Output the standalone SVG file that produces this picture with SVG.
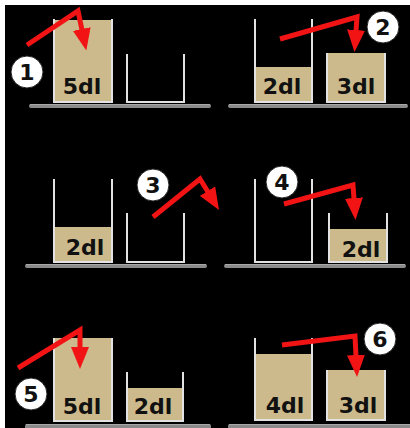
<svg xmlns="http://www.w3.org/2000/svg" width="410" height="428" viewBox="0 0 410 428">
  <style>
    .wall { fill: none; stroke: #e2e2e2; stroke-width: 2; }
    .liquid { fill: #cdba8c; }
    .shelf { fill: #8a8a8a; }
    .shelf-top { fill: #a8a8a8; }
    .vol { font-family: "DejaVu Sans", Verdana, sans-serif; font-weight: bold; font-size: 22px; fill: #111; text-anchor: middle; }
    .step circle { fill: #fff; stroke: #222; stroke-width: 1; }
    .step text { font-family: "DejaVu Sans", sans-serif; font-weight: bold; font-size: 22px; fill: #111; text-anchor: middle; }
    .pour { fill: none; stroke: #f21414; stroke-width: 5; stroke-linejoin: miter; marker-end: url(#head); }
  </style>
  <defs>
    <marker id="head" markerUnits="userSpaceOnUse" viewBox="0 0 22 18" refX="1" refY="9" markerWidth="22" markerHeight="18" orient="auto">
      <path d="M0,0 L22,9 L0,18 Z" fill="#f21414"/>
    </marker>
  </defs>

  <!-- page -->
  <rect width="410" height="428" fill="#fff"/>
  <rect x="5" y="5" width="405" height="423" fill="#000"/>

  <!-- shelves -->
  <g id="shelves">
    <rect class="shelf" x="29" y="104" width="182" height="4" rx="2"/>
    <rect class="shelf-top" x="30" y="104" width="180" height="1"/>
    <rect class="shelf" x="228" y="104" width="180" height="4" rx="2"/>
    <rect class="shelf-top" x="229" y="104" width="178" height="1"/>
    <rect class="shelf" x="25" y="264" width="182" height="4" rx="2"/>
    <rect class="shelf-top" x="26" y="264" width="180" height="1"/>
    <rect class="shelf" x="224" y="264" width="182" height="4" rx="2"/>
    <rect class="shelf-top" x="225" y="264" width="180" height="1"/>
    <rect class="shelf" x="25" y="424" width="186" height="5" rx="2"/>
    <rect class="shelf-top" x="26" y="424" width="184" height="1"/>
    <rect class="shelf" x="228" y="424" width="184" height="5" rx="2"/>
    <rect class="shelf-top" x="229" y="424" width="182" height="1"/>
  </g>

  <!-- row 1 -->
  <g id="beaker-1a">
    <rect class="liquid" x="54" y="20" width="58" height="82"/>
    <path class="wall" d="M54,19 V102 H112 V19"/>
    <text class="vol" x="82" y="94">5dl</text>
  </g>
  <g id="beaker-1b">
    <path class="wall" d="M127,54 V102 H184 V54"/>
  </g>
  <g id="beaker-2a">
    <rect class="liquid" x="255" y="67" width="57" height="35"/>
    <path class="wall" d="M255,19 V102 H312 V19"/>
    <text class="vol" x="282" y="94">2dl</text>
  </g>
  <g id="beaker-2b">
    <rect class="liquid" x="327" y="53" width="58" height="49"/>
    <path class="wall" d="M327,53 V102 H385 V53"/>
    <text class="vol" x="356" y="94">3dl</text>
  </g>

  <!-- row 2 -->
  <g id="beaker-3a">
    <rect class="liquid" x="54" y="227" width="58" height="35"/>
    <path class="wall" d="M54,179 V262 H112 V179"/>
    <text class="vol" x="85" y="255">2dl</text>
  </g>
  <g id="beaker-3b">
    <path class="wall" d="M127,213 V262 H184 V213"/>
  </g>
  <g id="beaker-4a">
    <path class="wall" d="M255,179 V262 H312 V179"/>
  </g>
  <g id="beaker-4b">
    <rect class="liquid" x="329" y="229" width="58" height="33"/>
    <path class="wall" d="M329,213 V262 H387 V213"/>
    <text class="vol" x="361" y="257">2dl</text>
  </g>

  <!-- row 3 -->
  <g id="beaker-5a">
    <rect class="liquid" x="54" y="338" width="58" height="83"/>
    <path class="wall" d="M54,338 V421 H112 V338"/>
    <text class="vol" x="82" y="414">5dl</text>
  </g>
  <g id="beaker-5b">
    <rect class="liquid" x="127" y="388" width="56" height="33"/>
    <path class="wall" d="M127,372 V421 H183 V372"/>
    <text class="vol" x="153" y="414">2dl</text>
  </g>
  <g id="beaker-6a">
    <rect class="liquid" x="255" y="354" width="57" height="66"/>
    <path class="wall" d="M255,338 V420 H312 V338"/>
    <text class="vol" x="285" y="413">4dl</text>
  </g>
  <g id="beaker-6b">
    <rect class="liquid" x="327" y="370" width="58" height="50"/>
    <path class="wall" d="M327,370 V420 H385 V370"/>
    <text class="vol" x="358" y="413">3dl</text>
  </g>

  <!-- step numbers -->
  <g id="step-1" class="step"><circle cx="27" cy="72" r="16"/><text x="27" y="80">1</text></g>
  <g id="step-2" class="step"><circle cx="383" cy="27" r="16"/><text x="383" y="35">2</text></g>
  <g id="step-3" class="step"><circle cx="153" cy="185" r="16"/><text x="153" y="193">3</text></g>
  <g id="step-4" class="step"><circle cx="282" cy="182" r="16"/><text x="282" y="190">4</text></g>
  <g id="step-5" class="step"><circle cx="31" cy="394" r="16"/><text x="31" y="402">5</text></g>
  <g id="step-6" class="step"><circle cx="380" cy="339" r="16"/><text x="380" y="347">6</text></g>

  <!-- pouring arrows -->
  <g id="connectors">
    <path class="pour" d="M27,45 L78,11 L82,30"/>
    <path class="pour" d="M280,39 L357,17 L356,31"/>
    <path class="pour" d="M153,217 L200,179 L208,192"/>
    <path class="pour" d="M284,204 L353,185 L354,199"/>
    <path class="pour" d="M18,368 L80,330 L80,348"/>
    <path class="pour" d="M282,345 L355,336 L356,356"/>
  </g>
</svg>
